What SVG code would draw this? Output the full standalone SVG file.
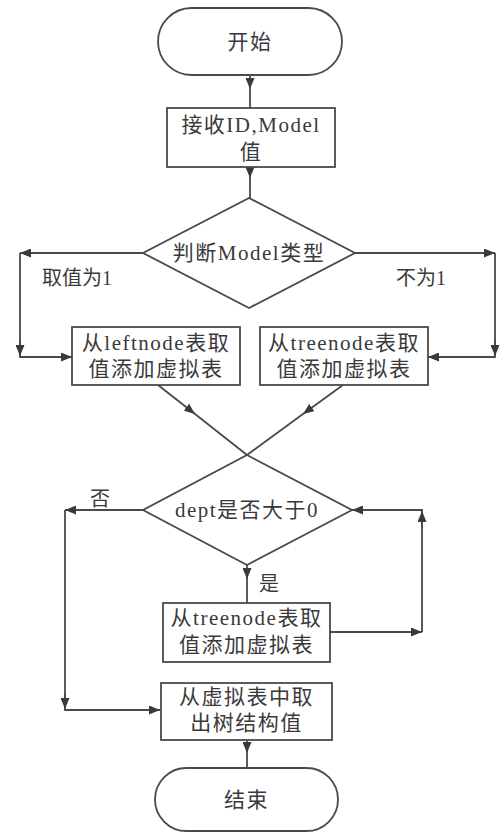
<svg xmlns="http://www.w3.org/2000/svg" width="504" height="835" viewBox="0 0 504 835">
<style>
.shape{fill:#fff;stroke:#4a4a4a;stroke-width:1.8}
.t{font-family:"Liberation Serif","Noto Sans CJK SC",serif;font-size:21px;fill:#3a3a3a;text-anchor:middle;dominant-baseline:central;letter-spacing:1.5px}
.lbl{font-family:"Liberation Serif","Noto Sans CJK SC",serif;font-size:20px;fill:#3a3a3a;text-anchor:middle;dominant-baseline:central}
.c{fill:none;stroke:#4a4a4a;stroke-width:1.8}
.am{marker-mid:url(#ah)}
.ae{marker-end:url(#ah)}
</style>
<defs>
<marker id="ah" markerUnits="userSpaceOnUse" markerWidth="11" markerHeight="9" refX="11" refY="4.5" orient="auto">
<path d="M0,0 L11,4.5 L0,9 z" fill="#3a3a3a"/>
</marker>
</defs>
<rect width="504" height="835" fill="#fff"/>
<g id="connectors">
<path class="c am" d="M250 75 V89 V108"/>
<path class="c am" d="M250 167 V178 V198"/>
<path class="c ae" d="M143 253 H20"/>
<path class="c ae" d="M20 253 V357 H72"/>
<path class="c ae" d="M20 340 V356"/>
<path class="c ae" d="M355 253 H495"/>
<path class="c ae" d="M495 253 V357 H428"/>
<path class="c ae" d="M495 340 V356"/>
<path class="c am" d="M158 385 L195 414 L247 455"/>
<path class="c am" d="M343 385 L303 414 L247 455"/>
<path class="c ae" d="M143 510 H65"/>
<path class="c ae" d="M65 510 V710 H160"/>
<path class="c ae" d="M65 694 V709"/>
<path class="c am" d="M247 565 V579 V603"/>
<path class="c ae" d="M330 632 H422"/>
<path class="c ae" d="M422 632 V510 H352"/>
<path class="c ae" d="M422 528 V511"/>
<path class="c am" d="M247 740 V753 V768"/>
<text class="lbl" x="77" y="278">取值为1</text>
<text class="lbl" x="421" y="278">不为1</text>
<text class="lbl" x="100" y="499">否</text>
<text class="lbl" x="269" y="584">是</text>
</g>
<g id="start">
<rect class="shape" x="158" y="8" width="184" height="67" rx="33.5"/>
<text class="t" x="250" y="42">开始</text>
</g>
<g id="receive">
<rect class="shape" x="167" y="108" width="168" height="59"/>
<text class="t" x="251" y="125">接收ID,Model</text>
<text class="t" x="251" y="152">值</text>
</g>
<g id="judgeModel">
<polygon class="shape" points="249,198 355,253 249,308 143,253"/>
<text class="t" x="249" y="253">判断Model类型</text>
</g>
<g id="leftnode">
<rect class="shape" x="72" y="327" width="168" height="58"/>
<text class="t" x="156" y="343">从leftnode表取</text>
<text class="t" x="156" y="369">值添加虚拟表</text>
</g>
<g id="treenode1">
<rect class="shape" x="260" y="327" width="168" height="58"/>
<text class="t" x="344" y="343">从treenode表取</text>
<text class="t" x="344" y="369">值添加虚拟表</text>
</g>
<g id="dept">
<polygon class="shape" points="247,455 352,510 247,565 143,510"/>
<text class="t" x="247" y="510">dept是否大于0</text>
</g>
<g id="treenode2">
<rect class="shape" x="163" y="603" width="167" height="59"/>
<text class="t" x="246.5" y="618">从treenode表取</text>
<text class="t" x="246.5" y="645">值添加虚拟表</text>
</g>
<g id="extract">
<rect class="shape" x="161" y="683" width="171" height="57"/>
<text class="t" x="246.5" y="697">从虚拟表中取</text>
<text class="t" x="246.5" y="723">出树结构值</text>
</g>
<g id="end">
<rect class="shape" x="155" y="768" width="183" height="63" rx="31.5"/>
<text class="t" x="246.5" y="800">结束</text>
</g>
</svg>
